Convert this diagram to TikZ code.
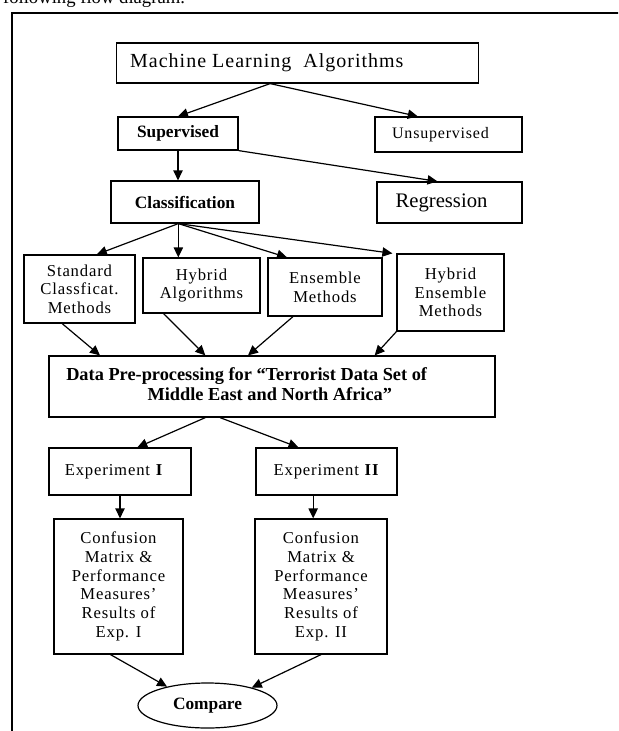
\documentclass[tikz,border=0pt]{standalone}
\usepackage{fontspec}
\setmainfont{Liberation Serif}
\newfontfamily\spacedfont[LetterSpace=5]{Liberation Serif}
\usetikzlibrary{arrows.meta,shapes.geometric}

\tikzset{
  box/.style={draw, line width=0.9pt, align=center, inner sep=2pt, font=\spacedfont\fontsize{12.5}{14}\selectfont},
  boldbox/.style={box, font=\fontsize{13}{15}\selectfont\bfseries},
}

\begin{document}
\begin{tikzpicture}[x=0.75pt, y=-0.75pt, line width=0.9pt, >={Triangle[length=7.5pt,width=7pt]}]
		\useasboundingbox (0,0) rectangle (618,731);
		\clip (0,0) rectangle (618,731);
		\node[anchor=base west, font=\fontsize{14}{16}\selectfont] at (-2,4) (intro) {following flow diagram.};
		\draw[line width=1.2pt] (12,760) -- (12,13) -- (640,13);
		
		\node[box, minimum width=272pt, minimum height=30pt, font=\spacedfont\fontsize{15}{17}\selectfont] at (297.5,63) (mla) {Machine Learning\ \ Algorithms\hspace{46pt}};
		\node[boldbox, minimum width=90pt, minimum height=24.75pt] at (178,133.5) (sup) {Supervised};
		\node[box, minimum width=110.25pt, minimum height=26.25pt, font=\spacedfont\fontsize{12}{14}\selectfont] at (448.5,134.5) (unsup) {Unsupervised\hspace{12pt}};
		\node[boldbox, minimum width=111pt, minimum height=31.5pt] at (185,202) (cls) {Classification};
		\node[box, minimum width=108.75pt, minimum height=30.75pt, font=\fontsize{15.5}{18}\selectfont] at (449.5,202.5) (reg) {Regression\hspace{12pt}};
		
		\node[box, minimum width=83.25pt, minimum height=51pt] at (79.5,289) (std) {Standard\\Classficat.\\Methods};
		\node[box, minimum width=87.75pt, minimum height=41.25pt] at (201.5,285.5) (hyb) {Hybrid\\Algorithms};
		\node[box, minimum width=85.5pt, minimum height=43.5pt] at (325,287) (ens) {Ensemble\\Methods};
		\node[box, minimum width=80.25pt, minimum height=57.75pt] at (450.5,292.5) (hens) {Hybrid\\Ensemble\\Methods};
		
		\node[boldbox, minimum width=334.5pt, minimum height=45.75pt, font=\fontsize{13.75}{15}\selectfont\bfseries] at (272,386.5) (pre) {\begin{tabular}{@{}l@{}}Data Pre-processing for “Terrorist Data Set of\\\hspace*{61pt}Middle East and North Africa”\end{tabular}\hspace{38pt}};
		
		\node[box, minimum width=106.5pt, minimum height=35.25pt] at (120,471.5) (exp1) {Experiment \textbf{I}\hspace{9pt}};
		\node[box, minimum width=105.75pt, minimum height=35.25pt] at (326.5,471.5) (exp2) {Experiment \textbf{II}};
		\node[box, minimum width=96.75pt, minimum height=101.25pt] at (118.5,586.5) (res1) {Confusion\\Matrix \&\\Performance\\Measures’\\Results of\\Exp. I};
		\node[box, minimum width=99pt, minimum height=101.25pt] at (321,586.5) (res2) {Confusion\\Matrix \&\\Performance\\Measures’\\Results of\\Exp. II};
		\node[boldbox, ellipse, inner sep=1pt, minimum width=104.25pt, minimum height=33.75pt] at (207.5,705.5) (cmp) {Compare};
		
		\coordinate (mlaout) at ([xshift=-20.5pt]mla.south);
		\draw[->] (mlaout) -- (sup.north);
		\draw[->] (mlaout) -- ([xshift=-23pt]unsup.north);
		\draw[->] (sup.south) -- (sup.south |- cls.north);
		\draw[->] (sup.south east) -- ([xshift=-9pt]reg.north);
		
		\coordinate (clsout) at ([xshift=-5pt]cls.south);
		\draw[->] (clsout) -- ([xshift=13pt]std.north);
		\draw[->] (clsout) -- (clsout |- hyb.north);
		\draw[->] (clsout) -- ([xshift=-28.5pt]ens.north);
		\draw[->] (clsout) -- ([xshift=-3pt]hens.north west);
		
		\draw[->] ([xshift=-13pt]std.south) -- ([xshift=-129pt]pre.north);
		\draw[->] ([xshift=-28.5pt]hyb.south) -- ([xshift=-50pt]pre.north);
		\draw[->] ([xshift=-24pt]ens.south) -- ([xshift=-18pt]pre.north);
		\draw[->] (hens.south west) -- ([xshift=77pt]pre.north);
		
		\draw[->] ([xshift=-50pt]pre.south) -- ([xshift=13pt]exp1.north);
		\draw[->] ([xshift=-39pt]pre.south) -- ([xshift=-21pt]exp2.north);
		\draw[->] (exp1.south) -- (exp1.south |- res1.north);
		\coordinate (exp2out) at ([xshift=-10pt]exp2.south);
		\draw[->] (exp2out) -- (exp2out |- res2.north);
		\draw[->] ([xshift=-6pt]res1.south) -- (cmp.155);
		\draw[->] (res2.south) -- (cmp.22);
	\end{tikzpicture}
\end{document}
